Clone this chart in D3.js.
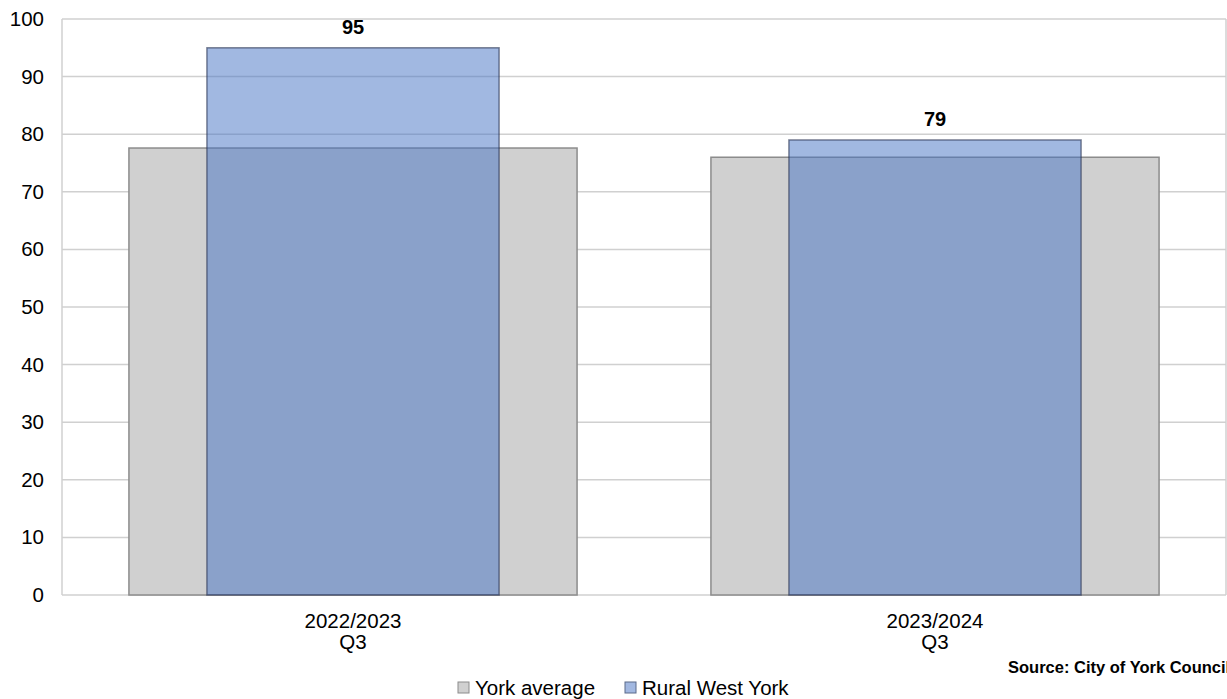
<!DOCTYPE html>
<html>
<head>
<meta charset="utf-8">
<script src="https://cdn.jsdelivr.net/npm/d3@7"></script>
<style>
  body { margin: 0; background: #fff; }
  svg { font-family: "Liberation Sans", Arial, sans-serif; display: block; }
</style>
</head>
<body>
<svg id="chart" width="1227" height="699"></svg>
<script>
// chart data
const periods = [["2022/2023", "Q3"], ["2023/2024", "Q3"]];
const yorkAverage = [77.6, 76.0];
const ruralWestYork = [95, 79];
const yTicks = [0, 10, 20, 30, 40, 50, 60, 70, 80, 90, 100];
const seriesNames = ["York average", "Rural West York"];

let svg = d3.select("#chart");

let margin = {left: 62, right: 1226, top: 19, bottom: 595};

let x = d3.scaleBand()
    .domain(d3.range(periods.length))
    .range([margin.left, margin.right]);

let y = d3.scaleLinear()
    .domain([0, 100])
    .range([margin.bottom, margin.top]);

// gridlines
svg.append("g").selectAll("line")
    .data(yTicks)
    .join("line")
    .attr("x1", margin.left)
    .attr("x2", margin.right)
    .attr("y1", d => y(d))
    .attr("y2", d => y(d))
    .style("stroke", "#d0d0d0")
    .style("stroke-width", 1.5);

// left + right frame lines
svg.append("line")
    .attr("x1", margin.left).attr("x2", margin.left)
    .attr("y1", y(100)).attr("y2", y(0))
    .style("stroke", "#d0d0d0").style("stroke-width", 1.5);
svg.append("line")
    .attr("x1", margin.right).attr("x2", margin.right)
    .attr("y1", y(100)).attr("y2", y(0))
    .style("stroke", "#d0d0d0").style("stroke-width", 1.5);

// y tick labels
svg.append("g").selectAll("text")
    .data(yTicks)
    .join("text")
    .attr("x", 44)
    .attr("y", d => y(d) + 7)
    .attr("text-anchor", "end")
    .style("font-size", "20.5px")
    .style("fill", "#000")
    .text(d => d);

let wideW = x.bandwidth() * 0.77;
let narrowW = x.bandwidth() * 0.502;

// York average (wide, grey)
svg.append("g").selectAll("rect")
    .data(yorkAverage)
    .join("rect")
    .attr("x", (d, i) => x(i) + x.bandwidth() / 2 - wideW / 2)
    .attr("width", wideW)
    .attr("y", d => y(d))
    .attr("height", d => y(0) - y(d))
    .style("fill", "#d0d0d0")
    .style("stroke", "#8c8c8c")
    .style("stroke-width", 1.5);

// Rural West York (narrow, semi-transparent blue)
svg.append("g").selectAll("rect")
    .data(ruralWestYork)
    .join("rect")
    .attr("x", (d, i) => x(i) + x.bandwidth() / 2 - narrowW / 2)
    .attr("width", narrowW)
    .attr("y", d => y(d))
    .attr("height", d => y(0) - y(d))
    .style("fill", "rgba(68,114,196,0.5)")
    .style("stroke", "rgba(40,50,80,0.6)")
    .style("stroke-width", 1.5);

// data labels
svg.append("g").selectAll("text")
    .data(ruralWestYork)
    .join("text")
    .attr("x", (d, i) => x(i) + x.bandwidth() / 2)
    .attr("y", d => y(d) - 13.5)
    .attr("text-anchor", "middle")
    .style("font-size", "20px")
    .style("font-weight", "bold")
    .text(d => d);

// x labels
let xl = svg.append("g").selectAll("text")
    .data(periods)
    .join("text")
    .attr("text-anchor", "middle")
    .style("font-size", "20.5px")
    .attr("y", 628);
xl.append("tspan")
    .attr("x", (d, i) => x(i) + x.bandwidth() / 2)
    .text(d => d[0]);
xl.append("tspan")
    .attr("x", (d, i) => x(i) + x.bandwidth() / 2)
    .attr("dy", 21)
    .text(d => d[1]);

// source note
svg.append("text")
    .attr("x", 1008)
    .attr("y", 673)
    .style("font-size", "16.5px")
    .style("font-weight", "bold")
    .text("Source: City of York Council");

// legend
let legendX = [458, 625];
let legendFill = ["#d0d0d0", "#a2b8e1"];
let legendStroke = ["#8c8c8c", "#5a6a8a"];
let lg = svg.append("g").selectAll("g")
    .data(seriesNames)
    .join("g")
    .attr("transform", (d, i) => "translate(" + legendX[i] + ",682)");
lg.append("rect")
    .attr("width", 11).attr("height", 11)
    .style("fill", (d, i) => legendFill[i])
    .style("stroke", (d, i) => legendStroke[i])
    .style("stroke-width", 1);
lg.append("text")
    .attr("x", 17)
    .attr("y", 13)
    .style("font-size", "20.5px")
    .text(d => d);
</script>
</body>
</html>
